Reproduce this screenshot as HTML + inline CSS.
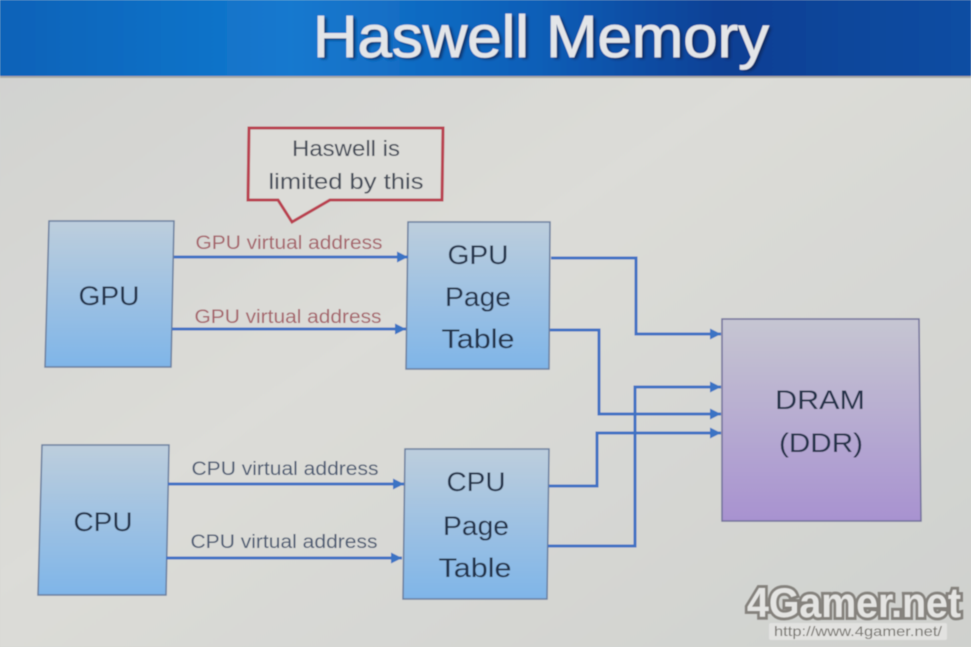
<!DOCTYPE html>
<html><head><meta charset="utf-8"><style>
html,body{margin:0;padding:0;background:#d4d5d2}
svg{display:block;width:971px;height:647px}
text{font-family:"Liberation Sans",sans-serif;text-anchor:middle}
.d{fill:#24304a;font-size:27px}
.r{fill:#a5636a;font-size:19px}
.b{fill:#4c5a72;font-size:19px}
</style></head><body>
<svg xmlns="http://www.w3.org/2000/svg" width="971" height="647" viewBox="0 0 971 647">
<defs>
<linearGradient id="top" x1="0" x2="1" y1="0" y2="0">
<stop offset="0" stop-color="#0a62b8"/><stop offset=".3" stop-color="#1479cf"/><stop offset=".55" stop-color="#0f5fb8"/><stop offset=".75" stop-color="#0b3f94"/><stop offset="1" stop-color="#0c4ea3"/></linearGradient>
<linearGradient id="bg" x1="0" x2="1" y1="0" y2="1">
<stop offset="0" stop-color="#d0d1cf"/><stop offset=".45" stop-color="#dcdcd8"/><stop offset="1" stop-color="#cfd1ce"/></linearGradient>
<linearGradient id="bx" x1="0" x2="0" y1="0" y2="1">
<stop offset="0" stop-color="#bdcedd"/><stop offset="1" stop-color="#7fb5e8"/></linearGradient>
<linearGradient id="pu" x1="0" x2="0" y1="0" y2="1">
<stop offset="0" stop-color="#c6c6d2"/><stop offset="1" stop-color="#a892d0"/></linearGradient>
<marker id="a" markerUnits="userSpaceOnUse" markerWidth="12" markerHeight="12" refX="11" refY="6" orient="auto"><path d="M0 .5L11 6L0 11.500Z" fill="#3b73c4"/></marker>
<filter id="s" x="0" y="0" width="100%" height="100%"><feGaussianBlur stdDeviation=".45"/></filter>
<filter id="ts" x="-5%" y="-20%" width="110%" height="140%"><feGaussianBlur stdDeviation="1.200"/></filter>
</defs>
<g filter="url(#s)">
<rect width="971" height="647" fill="url(#bg)"/>
<rect width="971" height="76" fill="url(#top)"/>
<rect y="76" width="971" height="2" fill="#a9aaa6"/>
<text x="544" y="59" font-size="59" textLength="456" lengthAdjust="spacingAndGlyphs" fill="#0a2250" opacity=".7" filter="url(#ts)">Haswell Memory</text>
<text x="541" y="57" font-size="59" textLength="456" lengthAdjust="spacingAndGlyphs" fill="#e3e5e8" stroke="#e3e5e8" stroke-width=".8">Haswell Memory</text>

<g stroke="#6a7e9e" stroke-width="1.500">
<path d="M49 221H174L171 367H45Z" fill="url(#bx)"/>
<path d="M408 222H550L549 369H406Z" fill="url(#bx)"/>
<path d="M42 445H169L166 595H38Z" fill="url(#bx)"/>
<path d="M405 449H549L547 599H403Z" fill="url(#bx)"/>
</g>
<path d="M722 319H919L921 521H722Z" fill="url(#pu)" stroke="#71709a" stroke-width="1.500"/>

<path d="M249 128H443L442 200H330L292 222L278 200H248Z" fill="#dcdcd8" stroke="#b9404f" stroke-width="3"/>
<text x="346" y="156" fill="#454c58" font-size="22" textLength="108" lengthAdjust="spacingAndGlyphs">Haswell is</text>
<text x="346" y="189" fill="#454c58" font-size="22" textLength="155" lengthAdjust="spacingAndGlyphs">limited by this</text>

<g fill="none" stroke="#3f72c4" stroke-width="3" marker-end="url(#a)">
<path d="M174 257H408"/>
<path d="M172 329H406"/>
<path d="M168 484H404"/>
<path d="M166 558H402"/>
<path d="M551 258H636V334H721"/>
<path d="M550 330H599V414H721"/>
<path d="M549 486H597V433H721"/>
<path d="M548 546H635V387H721"/>
</g>

<text class="r" x="289" y="249" textLength="187" lengthAdjust="spacingAndGlyphs">GPU virtual address</text>
<text class="r" x="288" y="323" textLength="187" lengthAdjust="spacingAndGlyphs">GPU virtual address</text>
<text class="b" x="285" y="475" textLength="187" lengthAdjust="spacingAndGlyphs">CPU virtual address</text>
<text class="b" x="284" y="548" textLength="187" lengthAdjust="spacingAndGlyphs">CPU virtual address</text>

<text class="d" x="109" y="305" textLength="61" lengthAdjust="spacingAndGlyphs">GPU</text>
<text class="d" x="103" y="531" textLength="59" lengthAdjust="spacingAndGlyphs">CPU</text>
<text class="d" x="478" y="264" textLength="61" lengthAdjust="spacingAndGlyphs">GPU</text>
<text class="d" x="478" y="306" textLength="66" lengthAdjust="spacingAndGlyphs">Page</text>
<text class="d" x="478" y="348" textLength="73" lengthAdjust="spacingAndGlyphs">Table</text>
<text class="d" x="476" y="491" textLength="59" lengthAdjust="spacingAndGlyphs">CPU</text>
<text class="d" x="476" y="535" textLength="66" lengthAdjust="spacingAndGlyphs">Page</text>
<text class="d" x="475" y="577" textLength="73" lengthAdjust="spacingAndGlyphs">Table</text>
<text class="d" x="820" y="409" textLength="90" lengthAdjust="spacingAndGlyphs">DRAM</text>
<text class="d" x="821" y="452" textLength="84" lengthAdjust="spacingAndGlyphs">(DDR)</text>

<text x="854" y="617" font-size="42" font-weight="bold" textLength="214" lengthAdjust="spacingAndGlyphs" fill="#e4e4e2" stroke="#85827d" stroke-width="6" paint-order="stroke">4Gamer.net</text>
<rect x="769" y="623" width="178" height="17" rx="2" fill="#e2e2e0"/>
<text x="858" y="636" font-size="14" textLength="168" lengthAdjust="spacingAndGlyphs" fill="#77756f">http://www.4gamer.net/</text>
</g>
</svg>
</body></html>
